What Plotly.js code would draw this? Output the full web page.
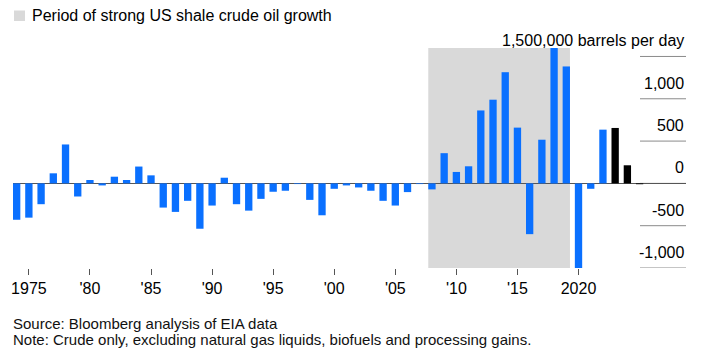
<!DOCTYPE html>
<html>
<head>
<meta charset="utf-8">
<script src="https://cdn.plot.ly/plotly-3.0.1.min.js"></script>
<style>
html,body{margin:0;padding:0;background:#fff;}
#chart{width:706px;height:358px;}
</style>
</head>
<body>
<div id="chart"></div>
<script>
// ---- data ----
const years = [1974,1975,1976,1977,1978,1979,1980,1981,1982,1983,1984,1985,1986,1987,1988,1989,1990,1991,1992,1993,1994,1995,1996,1997,1998,1999,2000,2001,2002,2003,2004,2005,2006,2007,2008,2009,2010,2011,2012,2013,2014,2015,2016,2017,2018,2019,2020,2021,2022,2023,2024,2025];
const growth = [-430,-405,-246,119,460,-155,40,-24,79,40,199,95,-286,-337,-206,-536,-262,67,-246,-322,-183,-99,-87,-8,-195,-377,-64,-24,-48,-87,-206,-262,-103,-8,-71,357,135,202,862,989,1314,659,-600,516,1620,1382,-1010,-64,635,655,214,-10];
const forecastStart = 2023;
const shadeStartYear = 2008;
const shadeEndYear = 2019;
const xTickVals = [1975,1980,1985,1990,1995,2000,2005,2010,2015,2020];
const xTickText = ['1975',"'80","'85","'90","'95","'00","'05","'10","'15",'2020'];
const yTickVals = [1500,1000,500,0,-500,-1000];
const yTickText = ['1,500,000 barrels per day','1,000','500','0','-500','-1,000'];
const legendText = 'Period of strong US shale crude oil growth';
const sourceText = 'Source: Bloomberg analysis of EIA data';
const noteText = 'Note: Crude only, excluding natural gas liquids, biofuels and processing gains.';

// ---- styles ----
const BLUE = '#0a70ff';
const BLACK = '#000000';
const SHADE = '#d9d9d9';
const FONT = 'Liberation Sans, Arial, sans-serif';
const barWidth = 0.6;

const W = 706, H = 358;
const M = {l:13, r:20, t:48, b:90};
const PW = W - M.l - M.r, PH = H - M.t - M.b;
const px2x = px => (px - M.l) / PW;
const py2y = py => (H - M.b - py) / PH;

const colors = years.map(y => y >= forecastStart ? BLACK : BLUE);

const trace = {
  type: 'bar',
  x: years,
  y: growth,
  width: barWidth,
  marker: {color: colors, line: {width: 0}},
  hoverinfo: 'x+y'
};

const shapes = [
  {type:'rect', xref:'x', yref:'paper', x0: shadeStartYear - barWidth/2, x1: shadeEndYear + barWidth/2, y0:0, y1:1,
   fillcolor: SHADE, line:{width:0}, layer:'below'},
  {type:'rect', xref:'paper', yref:'paper', x0: px2x(14), x1: px2x(25), y0: py2y(21), y1: py2y(10.5),
   fillcolor: SHADE, line:{width:0}}
];
yTickVals.forEach(v => {
  shapes.push({type:'line', xref:'paper', yref:'y', x0: px2x(640), x1: 1, y0: v, y1: v,
    line:{color:'#8a8a8a', width:1}, layer:'below'});
});

const annotations = [];
yTickVals.forEach((v, i) => {
  annotations.push({xref:'paper', yref:'y', x:1, y:v, xanchor:'right', yanchor:'bottom', yshift:5,
    text: yTickText[i], showarrow:false, font:{family:FONT, size:16, color:'#000'}});
});
annotations.push({xref:'paper', yref:'paper', x: px2x(30), y: py2y(15.5), xanchor:'left', yanchor:'middle',
  text: legendText, showarrow:false, font:{family:FONT, size:16, color:'#000'}});
annotations.push({xref:'paper', yref:'paper', x: px2x(11), y: py2y(323), xanchor:'left', yanchor:'middle',
  text: sourceText, showarrow:false, font:{family:FONT, size:15, color:'#111'}});
annotations.push({xref:'paper', yref:'paper', x: px2x(11), y: py2y(339), xanchor:'left', yanchor:'middle',
  text: noteText, showarrow:false, font:{family:FONT, size:15, color:'#111'}});

const layout = {
  width: W, height: H,
  margin: M,
  paper_bgcolor:'#fff', plot_bgcolor:'#fff',
  showlegend:false,
  font:{family:FONT, size:16, color:'#000'},
  xaxis:{range:[years[0] - barWidth/2, 2028.8], tickvals:xTickVals, ticktext:xTickText,
    ticks:'outside', ticklen:6, tickwidth:1, tickcolor:'#555', showgrid:false, zeroline:false, showline:false,
    tickfont:{family:FONT, size:16, color:'#000'}, fixedrange:true},
  yaxis:{range:[-1000,1600], showticklabels:false, showgrid:false, zeroline:true, zerolinecolor:'#555', zerolinewidth:1,
    fixedrange:true},
  shapes: shapes,
  annotations: annotations,
  bargap: 0.4
};

Plotly.newPlot('chart', [trace], layout, {displayModeBar:false, staticPlot:true});
</script>
</body>
</html>
